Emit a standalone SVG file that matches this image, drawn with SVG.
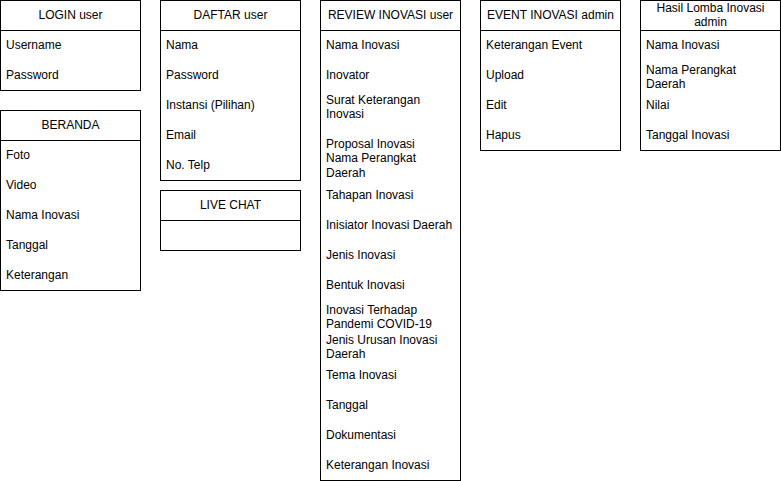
<svg xmlns="http://www.w3.org/2000/svg" width="781" height="481" viewBox="0 0 781 481">
<style>
.box{fill:#ffffff;stroke:#000000;stroke-width:1}
.sep{stroke:#000000;stroke-width:1}
text{font-family:"Liberation Sans",Arial,Helvetica,sans-serif;font-size:12px;fill:#000000}
.h{text-anchor:middle}
</style>
<rect width="781" height="481" fill="#ffffff"/>
<g id="login">
<rect class="box" x="0.5" y="0.5" width="140" height="90"/>
<line class="sep" x1="0.5" y1="30.5" x2="140.5" y2="30.5"/>
<text class="h" x="70.5" y="19">LOGIN user</text>
<text x="6" y="49">Username</text>
<text x="6" y="79">Password</text>
</g>
<g id="beranda">
<rect class="box" x="0.5" y="110.5" width="140" height="180"/>
<line class="sep" x1="0.5" y1="140.5" x2="140.5" y2="140.5"/>
<text class="h" x="70.5" y="129">BERANDA</text>
<text x="6" y="159">Foto</text>
<text x="6" y="189">Video</text>
<text x="6" y="219">Nama Inovasi</text>
<text x="6" y="249">Tanggal</text>
<text x="6" y="279">Keterangan</text>
</g>
<g id="daftar">
<rect class="box" x="160.5" y="0.5" width="140" height="180"/>
<line class="sep" x1="160.5" y1="30.5" x2="300.5" y2="30.5"/>
<text class="h" x="230.5" y="19">DAFTAR user</text>
<text x="166" y="49">Nama</text>
<text x="166" y="79">Password</text>
<text x="166" y="109">Instansi (Pilihan)</text>
<text x="166" y="139">Email</text>
<text x="166" y="169">No. Telp</text>
</g>
<g id="livechat">
<rect class="box" x="160.5" y="190.5" width="140" height="60"/>
<line class="sep" x1="160.5" y1="220.5" x2="300.5" y2="220.5"/>
<text class="h" x="230.5" y="209">LIVE CHAT</text>
</g>
<g id="review">
<rect class="box" x="320.5" y="0.5" width="140" height="480"/>
<line class="sep" x1="320.5" y1="30.5" x2="460.5" y2="30.5"/>
<text class="h" x="390.5" y="19">REVIEW INOVASI user</text>
<text x="326" y="49">Nama Inovasi</text>
<text x="326" y="79">Inovator</text>
<text x="326" y="104">Surat Keterangan</text>
<text x="326" y="118">Inovasi</text>
<text x="326" y="148">Proposal Inovasi</text>
<text x="326" y="162">Nama Perangkat</text>
<text x="326" y="177">Daerah</text>
<text x="326" y="199">Tahapan Inovasi</text>
<text x="326" y="229">Inisiator Inovasi Daerah</text>
<text x="326" y="259">Jenis Inovasi</text>
<text x="326" y="289">Bentuk Inovasi</text>
<text x="326" y="314">Inovasi Terhadap</text>
<text x="326" y="328">Pandemi COVID-19</text>
<text x="326" y="344">Jenis Urusan Inovasi</text>
<text x="326" y="358">Daerah</text>
<text x="326" y="379">Tema Inovasi</text>
<text x="326" y="409">Tanggal</text>
<text x="326" y="439">Dokumentasi</text>
<text x="326" y="469">Keterangan Inovasi</text>
</g>
<g id="event">
<rect class="box" x="480.5" y="0.5" width="140" height="150"/>
<line class="sep" x1="480.5" y1="30.5" x2="620.5" y2="30.5"/>
<text class="h" x="550.5" y="19">EVENT INOVASI admin</text>
<text x="486" y="49">Keterangan Event</text>
<text x="486" y="79">Upload</text>
<text x="486" y="109">Edit</text>
<text x="486" y="139">Hapus</text>
</g>
<g id="hasil">
<rect class="box" x="640.5" y="0.5" width="140" height="150"/>
<line class="sep" x1="640.5" y1="30.5" x2="780.5" y2="30.5"/>
<text class="h" x="710.5" y="12">Hasil Lomba Inovasi</text>
<text class="h" x="710.5" y="26">admin</text>
<text x="646" y="49">Nama Inovasi</text>
<text x="646" y="74">Nama Perangkat</text>
<text x="646" y="88">Daerah</text>
<text x="646" y="109">Nilai</text>
<text x="646" y="139">Tanggal Inovasi</text>
</g>
<g id="connectors"></g>
</svg>
